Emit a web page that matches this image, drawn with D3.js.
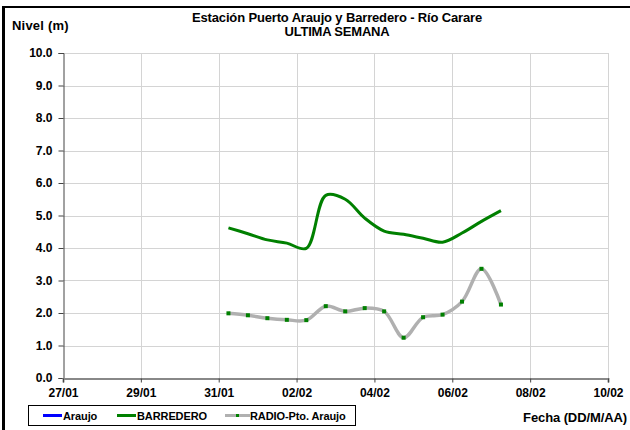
<!DOCTYPE html>
<html><head><meta charset="utf-8">
<script src="https://cdn.jsdelivr.net/npm/d3@7"></script>
<style>
body{margin:0;background:#fff;}
svg{display:block;font-family:"Liberation Sans",Arial,sans-serif;font-weight:bold;}
</style></head>
<body><svg id="c" width="630" height="430"></svg>
<script>
// ---- data ----
const xTickLabels = ["27/01","29/01","31/01","02/02","04/02","06/02","08/02","10/02"];
const yTickLabels = ["0.0","1.0","2.0","3.0","4.0","5.0","6.0","7.0","8.0","9.0","10.0"];
// time in days after 27/01 00:00
const times = [4.25,4.75,5.25,5.75,6.25,6.75,7.25,7.75,8.25,8.75,9.25,9.75,10.25,10.75,11.25];
const barredero = [4.62,4.44,4.25,4.15,3.99,5.62,5.5,4.92,4.52,4.42,4.3,4.18,4.46,4.82,5.15];
const radio = [1.99,1.93,1.84,1.79,1.78,2.21,2.05,2.15,2.05,1.24,1.87,1.95,2.35,3.36,2.26];
const araujo = [];
const seriesNames = ["Araujo","BARREDERO","RADIO-Pto. Araujo"];

const svg = d3.select("#c");
const X0=63, X1=608, Y0=378, Y1=53;
const x = d3.scaleLinear().domain([0,14]).range([X0,X1]);
const y = d3.scaleLinear().domain([0,10]).range([Y0,Y1]);

// frame
svg.append("line").attr("x1",3.5).attr("x2",3.5).attr("y1",6).attr("y2",430).attr("stroke","#000").attr("stroke-width",3);
svg.append("line").attr("x1",2).attr("x2",630).attr("y1",7).attr("y2",7).attr("stroke","#000").attr("stroke-width",2);

// grid
const yt = d3.range(0,11,1);
const xt = d3.range(0,15,2);
svg.append("g").selectAll("line").data(yt.slice(1)).join("line")
  .attr("x1",X0).attr("x2",X1).attr("y1",d=>Math.round(y(d))+0.5).attr("y2",d=>Math.round(y(d))+0.5)
  .attr("stroke","#d4d4d4").attr("stroke-width",1);
svg.append("g").selectAll("line").data(xt.slice(1)).join("line")
  .attr("x1",d=>Math.round(x(d))+0.5).attr("x2",d=>Math.round(x(d))+0.5).attr("y1",Y1).attr("y2",Y0)
  .attr("stroke","#d4d4d4").attr("stroke-width",1);

// axes
const yAxis = d3.axisLeft(y).tickValues(yt).tickFormat((d,i)=>yTickLabels[i]).tickSize(5).tickPadding(6);
const gy = svg.append("g").attr("transform",`translate(${X0+0.5},0)`).call(yAxis);
gy.select(".domain").attr("stroke","#444");
gy.selectAll(".tick line").attr("stroke","#444");
gy.selectAll("text").attr("font-size",12).attr("font-weight","bold").attr("fill","#000").attr("font-family","Liberation Sans, Arial");

const xAxis = d3.axisBottom(x).tickValues(xt).tickFormat((d,i)=>xTickLabels[i]).tickSize(4).tickPadding(6);
const gx = svg.append("g").attr("transform",`translate(0,${Y0+0.5})`).call(xAxis);
gx.select(".domain").attr("stroke","#888").attr("stroke-width",2);
gx.selectAll(".tick line").attr("stroke","#444");
gx.selectAll("text").attr("font-size",12).attr("font-weight","bold").attr("fill","#000").attr("font-family","Liberation Sans, Arial");

// lines
const line = d3.line().x(d=>x(d[0])).y(d=>y(d[1])).curve(d3.curveCatmullRom.alpha(0.5));
svg.append("path").datum(times.map((t,i)=>[t,radio[i]])).attr("d",line)
  .attr("fill","none").attr("stroke","#b0b0b0").attr("stroke-width",3.5);
svg.append("g").selectAll("rect").data(times.map((t,i)=>[t,radio[i]])).join("rect")
  .attr("x",d=>x(d[0])-2).attr("y",d=>y(d[1])-2).attr("width",4).attr("height",4).attr("fill","#008000");
svg.append("path").datum(times.map((t,i)=>[t,barredero[i]])).attr("d",line)
  .attr("fill","none").attr("stroke","#008000").attr("stroke-width",3);

// titles
svg.append("text").attr("x",337).attr("y",22).attr("text-anchor","middle").attr("font-size",13).attr("letter-spacing",-0.15)
  .text("Estación Puerto Araujo y Barredero - Río Carare");
svg.append("text").attr("x",337).attr("y",36).attr("text-anchor","middle").attr("font-size",13).attr("letter-spacing",-0.2)
  .text("ULTIMA SEMANA");
svg.append("text").attr("x",12).attr("y",30).attr("font-size",13).attr("letter-spacing",0.2).text("Nivel (m)");
svg.append("text").attr("x",627).attr("y",422).attr("text-anchor","end").attr("font-size",13).attr("letter-spacing",-0.1).text("Fecha (DD/M/AA)");

// legend
const lg = svg.append("g");
lg.append("rect").attr("x",28.5).attr("y",405.5).attr("width",327).attr("height",20).attr("fill","#fff").attr("stroke","#000");
const items = [{c:"#0000ff",x1:43,x2:62,tx:63},{c:"#008000",x1:117,x2:136,tx:137},{c:"#b0b0b0",x1:225,x2:250,tx:250,m:true}];
items.forEach((it,i)=>{
  lg.append("line").attr("x1",it.x1).attr("x2",it.x2).attr("y1",415.5).attr("y2",415.5).attr("stroke",it.c).attr("stroke-width",3);
  if(it.m) lg.append("rect").attr("x",(it.x1+it.x2)/2-1.5).attr("y",414).attr("width",3).attr("height",3).attr("fill","#008000");
  lg.append("text").attr("x",it.tx).attr("y",420).attr("font-size",11).attr("letter-spacing",-0.1).text(seriesNames[i]);
});
</script></body></html>
